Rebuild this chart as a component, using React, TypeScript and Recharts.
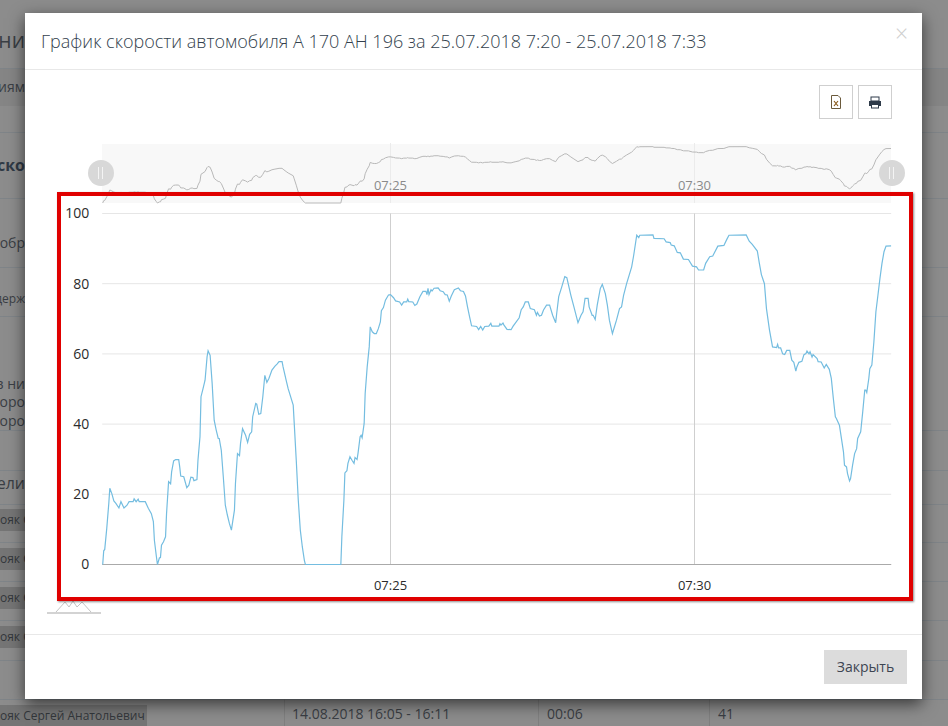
import { CartesianGrid, Line, LineChart, ReferenceLine, XAxis, YAxis } from "recharts";

const FONT = '"Open Sans", sans-serif';

// seconds after 07:20:00
const seconds = [
  16, 17, 18, 20, 22, 23, 25, 27, 29, 32, 34, 37, 40, 42, 46, 47, 49, 51, 52, 58,
  61, 64, 66, 67, 69, 70, 72, 73, 74, 76, 78, 79, 81, 83, 84, 86, 88, 91, 92, 93,
  96, 99, 101, 103, 105, 106, 109, 110, 112, 113, 115, 117, 119, 120, 122, 124, 126, 128, 130, 131,
  133, 135, 137, 139, 141, 143, 144, 146, 147, 149, 151, 152, 154, 157, 159, 161, 163, 164, 167, 168,
  170, 172, 174, 176, 178, 180, 183, 186, 188, 190, 193, 194, 197, 199, 204, 205, 207, 209, 211, 213,
  215, 216, 251, 252, 254, 255, 257, 258, 260, 262, 264, 265, 267, 268, 270, 271, 272, 274, 275, 277,
  279, 280, 282, 284, 286, 288, 290, 291, 293, 295, 298, 300, 303, 305, 309, 311, 313, 316, 317, 318,
  322, 324, 326, 329, 332, 335, 336, 337, 338, 340, 341, 343, 347, 349, 352, 354, 356, 358, 360, 363,
  367, 369, 372, 374, 376, 378, 380, 385, 387, 389, 391, 393, 397, 399, 400, 407, 408, 409, 411, 412,
  415, 419, 421, 423, 427, 429, 431, 433, 436, 438, 442, 444, 445, 447, 449, 451, 454, 457, 460, 463,
  464, 466, 469, 472, 474, 478, 481, 485, 486, 488, 490, 492, 495, 496, 499, 500, 502, 504, 507, 509,
  512, 514, 516, 519, 523, 526, 528, 530, 533, 538, 540, 543, 545, 546, 559, 560, 570, 572, 576, 577,
  580, 583, 586, 589, 594, 598, 602, 604, 609, 611, 615, 618, 623, 629, 632, 634, 651, 654, 657, 662,
  664, 666, 669, 671, 674, 677, 681, 682, 683, 685, 687, 689, 691, 694, 696, 698, 700, 701, 703, 706,
  708, 710, 711, 713, 714, 716, 717, 721, 722, 725, 728, 730, 733, 735, 737, 739, 740, 743, 744, 747,
  748, 750, 751, 753, 754, 756, 758, 760, 761, 764, 766, 768, 769, 770, 772, 773, 775, 777, 779, 781,
  783, 785, 787, 789, 794,
];

const speed = [
  0, 3.9, 4.3, 10.3, 17.4, 21.7, 20.2, 18.1, 17.4, 16.1, 17.9, 16.1, 16.9, 17.9, 17.9, 18.7, 17.9, 18.6, 17.9, 17.9,
  16, 14.5, 12.2, 6.9, 2.2, 0, 1.9, 2, 5.5, 6.5, 7.9, 14.5, 23.6, 23, 26.4, 29.5, 29.9, 29.9, 27.8, 25.2,
  25, 21.9, 22.6, 24.9, 24.8, 23.9, 24.2, 29.7, 36.4, 47.8, 50.1, 52.5, 59.2, 60.9, 59.6, 51.6, 41.1, 38.3, 35.9, 35.9,
  32.6, 25, 16.9, 14.1, 11.7, 9.8, 11.7, 15.5, 23.1, 31.6, 31, 34.5, 38.7, 36.8, 34.8, 37.1, 37.8, 42.1, 45.9, 45.7,
  42.8, 43, 47.8, 53.9, 51.9, 53, 55.4, 56.5, 57.1, 57.8, 57.8, 56.3, 52.5, 50.1, 45.4, 40.2, 29.7, 18.3, 9.8, 5,
  1.2, 0, 0, 7.9, 18.3, 26.1, 26.7, 28.8, 30.7, 29.7, 28.8, 30.5, 29.9, 31.8, 36.4, 36.8, 36.1, 40.2, 48.7, 56.3,
  62, 67.7, 66.3, 65.8, 65.8, 67.2, 69.1, 72.3, 73.2, 75.3, 76.8, 76.9, 76, 75.1, 74.8, 73.9, 74.8, 74.8, 75.6, 74.9,
  74.8, 73.8, 74.2, 76.3, 77.8, 77.8, 76.9, 78.7, 76.9, 78.3, 77.9, 78.7, 78.8, 78, 77.7, 76.9, 76.8, 75, 76.5, 78.3,
  78.8, 78, 77.8, 76.5, 73.4, 70.6, 68, 67.8, 66.9, 67.8, 66.8, 67.8, 67.9, 68.7, 67.9, 67.9, 68.6, 68.2, 68.8, 68.2,
  67, 66.9, 67.9, 68.7, 70.3, 72.6, 73.4, 74.8, 74.8, 72.9, 72.6, 71, 71.8, 70.8, 71, 72.5, 73.9, 73.9, 71, 68.9,
  71.5, 76.3, 79.1, 82, 81.7, 76.7, 73.4, 68.9, 69.6, 71, 72, 75.8, 75.8, 73.4, 71, 71, 69.8, 73.9, 78.6, 79.8,
  77.2, 73.9, 69.6, 65.8, 69.6, 72.9, 73.4, 76.7, 80, 84.8, 88.1, 93.8, 93.1, 93.8, 93.9, 92.9, 92.8, 91.9, 91.7, 91,
  90.8, 88.9, 88.8, 87, 86.9, 85, 84.8, 83.9, 83.9, 85.8, 87.7, 87.9, 90.7, 90.9, 92.7, 93.8, 93.9, 92.1, 91.2, 89.3,
  85.8, 82.6, 80, 72.9, 66.8, 62, 61.8, 62.7, 61.7, 61.7, 60, 59.8, 61, 61, 58.2, 57.6, 55.1, 56.3, 57.6, 57.9,
  59.8, 60.1, 60.8, 60, 60.6, 59.1, 59.8, 58.7, 57.8, 57.7, 56, 57, 55.6, 53, 47.3, 42.1, 41.6, 39.7, 37.8, 32.1,
  28.3, 27.8, 25.9, 23.8, 24.5, 28.3, 31.6, 33, 35.9, 37.8, 43.5, 49.7, 49.7, 49, 53, 55.8, 56.8, 63.4, 72, 76.7,
  81.5, 85.8, 89.1, 90.7, 90.8,
];

const yTicks = [0, 20, 40, 60, 80, 100];
const xTicks = [300, 600];
const xDomain = [15.5, 794.1];

const rows = seconds.map((t, i) => ({ t, v: speed[i] }));

const fmtTime = (t: number) => {
  const min = 20 + Math.floor(t / 60);
  return `07:${String(min).padStart(2, "0")}`;
};

// bits of the page that show to the left of the dialog
const bgRows = [
  { top: 28, text: "ени", size: 21, bold: false },
  { top: 79, text: "иям", size: 14, bold: false },
  { top: 156, text: "ско", size: 16, bold: true },
  { top: 235, text: "обр", size: 14, bold: false },
  { top: 292, text: "держ", size: 12, bold: false },
  { top: 376, text: "в ни", size: 14, bold: false },
  { top: 394, text: "коро", size: 14, bold: false },
  { top: 413, text: "коро", size: 14, bold: false },
  { top: 474, text: "ели", size: 16, bold: false },
];
const driverRows = [520, 559, 598, 637];
const bgLines = [68, 132, 198, 267, 316, 430, 470, 504, 542, 581, 620, 660, 699];
const columnLines = [284, 538, 709];

function Backdrop() {
  return (
    <>
      {bgLines.map((y) => (
        <div key={y} style={{ position: "absolute", left: 0, top: y, width: 948, height: 1, background: "#7f8488" }} />
      ))}
      <div style={{ position: "absolute", left: 0, top: 69, width: 948, height: 37, background: "#858585" }} />
      {columnLines.map((x) => (
        <div key={x} style={{ position: "absolute", left: x, top: 699, width: 1, height: 27, background: "#7f7f7f" }} />
      ))}
      {bgRows.map((r) => (
        <div
          key={r.top}
          style={{
            position: "absolute",
            right: 923,
            top: r.top - 1,
            whiteSpace: "nowrap",
            fontSize: r.size,
            lineHeight: 1.25,
            fontWeight: r.bold ? 700 : 400,
            color: r.bold ? "#2f3945" : "#3a3e44",
          }}
        >
          {r.text}
        </div>
      ))}
      {driverRows.map((y) => (
        <div key={y} style={{ position: "absolute", left: 0, top: y - 11, width: 30, height: 22, background: "#757575", fontSize: 12, lineHeight: "22px", color: "#33373b", whiteSpace: "nowrap" }}>
          ояк С
        </div>
      ))}
      <div style={{ position: "absolute", left: 0, top: 705, width: 147, height: 21, background: "#757575", fontSize: 12, lineHeight: "21px", color: "#33373b", whiteSpace: "nowrap" }}>
        ояк Сергей Анатольевич
      </div>
      <div style={{ position: "absolute", left: 292, top: 704, fontSize: 14, lineHeight: "20px", color: "#3a3e44" }}>14.08.2018 16:05 - 16:11</div>
      <div style={{ position: "absolute", left: 547, top: 704, fontSize: 14, lineHeight: "20px", color: "#3a3e44" }}>00:06</div>
      <div style={{ position: "absolute", left: 718, top: 704, fontSize: 14, lineHeight: "20px", color: "#3a3e44" }}>41</div>
    </>
  );
}

function Handle({ x }: { x: number }) {
  return (
    <div style={{ position: "absolute", left: x - 13, top: 160, width: 26, height: 26, borderRadius: 13, background: "#d8d8d8" }}>
      <div style={{ position: "absolute", left: 10, top: 7, width: 1, height: 12, background: "#f4f4f4" }} />
      <div style={{ position: "absolute", left: 14, top: 7, width: 1, height: 12, background: "#f4f4f4" }} />
    </div>
  );
}

function IconButton({ left, children }: { left: number; children: React.ReactNode }) {
  return (
    <div style={{ position: "absolute", left, top: 85, width: 32, height: 32, border: "1px solid #cfcfcf", display: "flex", alignItems: "center", justifyContent: "center" }}>
      {children}
    </div>
  );
}

function NavTick({ x, y, payload }: { x: number; y: number; payload: { value: number } }) {
  return (
    <text x={x} y={y - 15} textAnchor="middle" fontSize={13} fill="#8a8a8a" fontFamily={FONT}>
      {fmtTime(payload.value)}
    </text>
  );
}

export default function App() {
  return (
    <div style={{ position: "fixed", left: 0, top: 0, width: 948, height: 726, overflow: "hidden", background: "#8c8c8c", fontFamily: FONT }}>
      <Backdrop />

      <div style={{ position: "absolute", left: 25, top: 13, width: 897, height: 686, background: "#fff", boxShadow: "0 5px 15px rgba(0,0,0,.6)" }} />
      <div style={{ position: "absolute", left: 25, top: 69, width: 897, height: 1, background: "#e8e8e8" }} />
      <div style={{ position: "absolute", left: 25, top: 634, width: 897, height: 1, background: "#e8e8e8" }} />
      <div style={{ position: "absolute", left: 41, top: 28, fontSize: 18, fontWeight: 300, lineHeight: "26px", color: "#333f4d", whiteSpace: "nowrap" }}>
        График скорости автомобиля А 170 АН 196 за 25.07.2018 7:20 - 25.07.2018 7:33
      </div>
      <div style={{ position: "absolute", left: 895, top: 21, fontSize: 23, fontWeight: 300, lineHeight: "24px", color: "#cfcfcf" }}>×</div>

      <IconButton left={819}>
        <svg width="12" height="14">
          <path d="M1.5 .5H8L10.5 3V13.5H1.5Z" fill="#fff" stroke="#6b5a3c" />
          <path d="M4 6L8 11M8 6L4 11" stroke="#8a5a1a" strokeWidth="1.2" />
        </svg>
      </IconButton>
      <IconButton left={858}>
        <svg width="14" height="13">
          <rect x="3" y="1" width="8" height="4" fill="none" stroke="#2f3b4a" />
          <rect x="1" y="5" width="12" height="5" fill="#2f3b4a" />
          <rect x="3.5" y="8.5" width="7" height="3.5" fill="#fff" stroke="#2f3b4a" />
        </svg>
      </IconButton>

      {/* navigator strip */}
      <div style={{ position: "absolute", left: 102, top: 144, width: 789, height: 59, background: "#f8f8f8" }} />
      <div style={{ position: "absolute", left: 0, top: 143 }}>
        <LineChart width={891.2} height={90} data={rows} margin={{ top: 0, right: 0, bottom: 0, left: 102.2 }}>
          {xTicks.map((t) => (
            <ReferenceLine key={t} x={t} stroke="#ebebeb" />
          ))}
          <XAxis
            dataKey="t"
            type="number"
            domain={xDomain}
            ticks={xTicks}
            height={30}
            axisLine={false}
            tickLine={false}
            tickSize={0}
            tick={NavTick}
          />
          <YAxis hide domain={[0, 100]} />
          <Line dataKey="v" type="linear" stroke="#b8b8b8" strokeWidth={1} dot={false} isAnimationActive={false} />
        </LineChart>
      </div>
      <Handle x={101} />
      <Handle x={892} />

      {/* reset icon under the chart */}
      <svg style={{ position: "absolute", left: 47, top: 598 }} width="55" height="17">
        <path d="M9 14L18 4L22 9L26 3L30 9L35 4L44 14" fill="none" stroke="#c4c4c4" />
        <path d="M0 15H54" stroke="#c4c4c4" strokeWidth="1.5" />
      </svg>

      <div style={{ position: "absolute", left: 58, top: 197 }}>
        <LineChart width={840} height={404} data={rows} margin={{ top: 16.5, right: 6.8, bottom: 6.5, left: 0.2 }}>
          <CartesianGrid vertical={false} stroke="#e6e6e6" />
          {xTicks.map((t) => (
            <ReferenceLine key={t} x={t} stroke="#cfcfcf" />
          ))}
          <ReferenceLine y={0} stroke="#aaaaaa" />
          <XAxis
            dataKey="t"
            type="number"
            domain={xDomain}
            ticks={xTicks}
            tickFormatter={fmtTime}
            height={30}
            axisLine={false}
            tickLine={false}
            tickMargin={10}
            tick={{ fontSize: 13, fill: "#2b2b2b", fontFamily: FONT }}
          />
          <YAxis
            type="number"
            domain={[0, 100]}
            ticks={yTicks}
            width={44}
            axisLine={false}
            tickLine={false}
            tickMargin={7}
            tick={{ fontSize: 14, fill: "#2b2b2b", fontFamily: FONT }}
          />
          <Line dataKey="v" type="linear" stroke="#74bde0" strokeWidth={1.2} dot={false} isAnimationActive={false} />
        </LineChart>
      </div>

      <div style={{ position: "absolute", left: 57, top: 192, width: 848, height: 401, border: "4px solid #e00000", boxShadow: "1px 1px 2px rgba(0,0,0,.45)", pointerEvents: "none" }} />

      <div style={{ position: "absolute", left: 824, top: 650, width: 83, height: 34, background: "#dcdcdc", color: "#3d4552", fontSize: 14, lineHeight: "34px", textAlign: "center" }}>
        Закрыть
      </div>
    </div>
  );
}
